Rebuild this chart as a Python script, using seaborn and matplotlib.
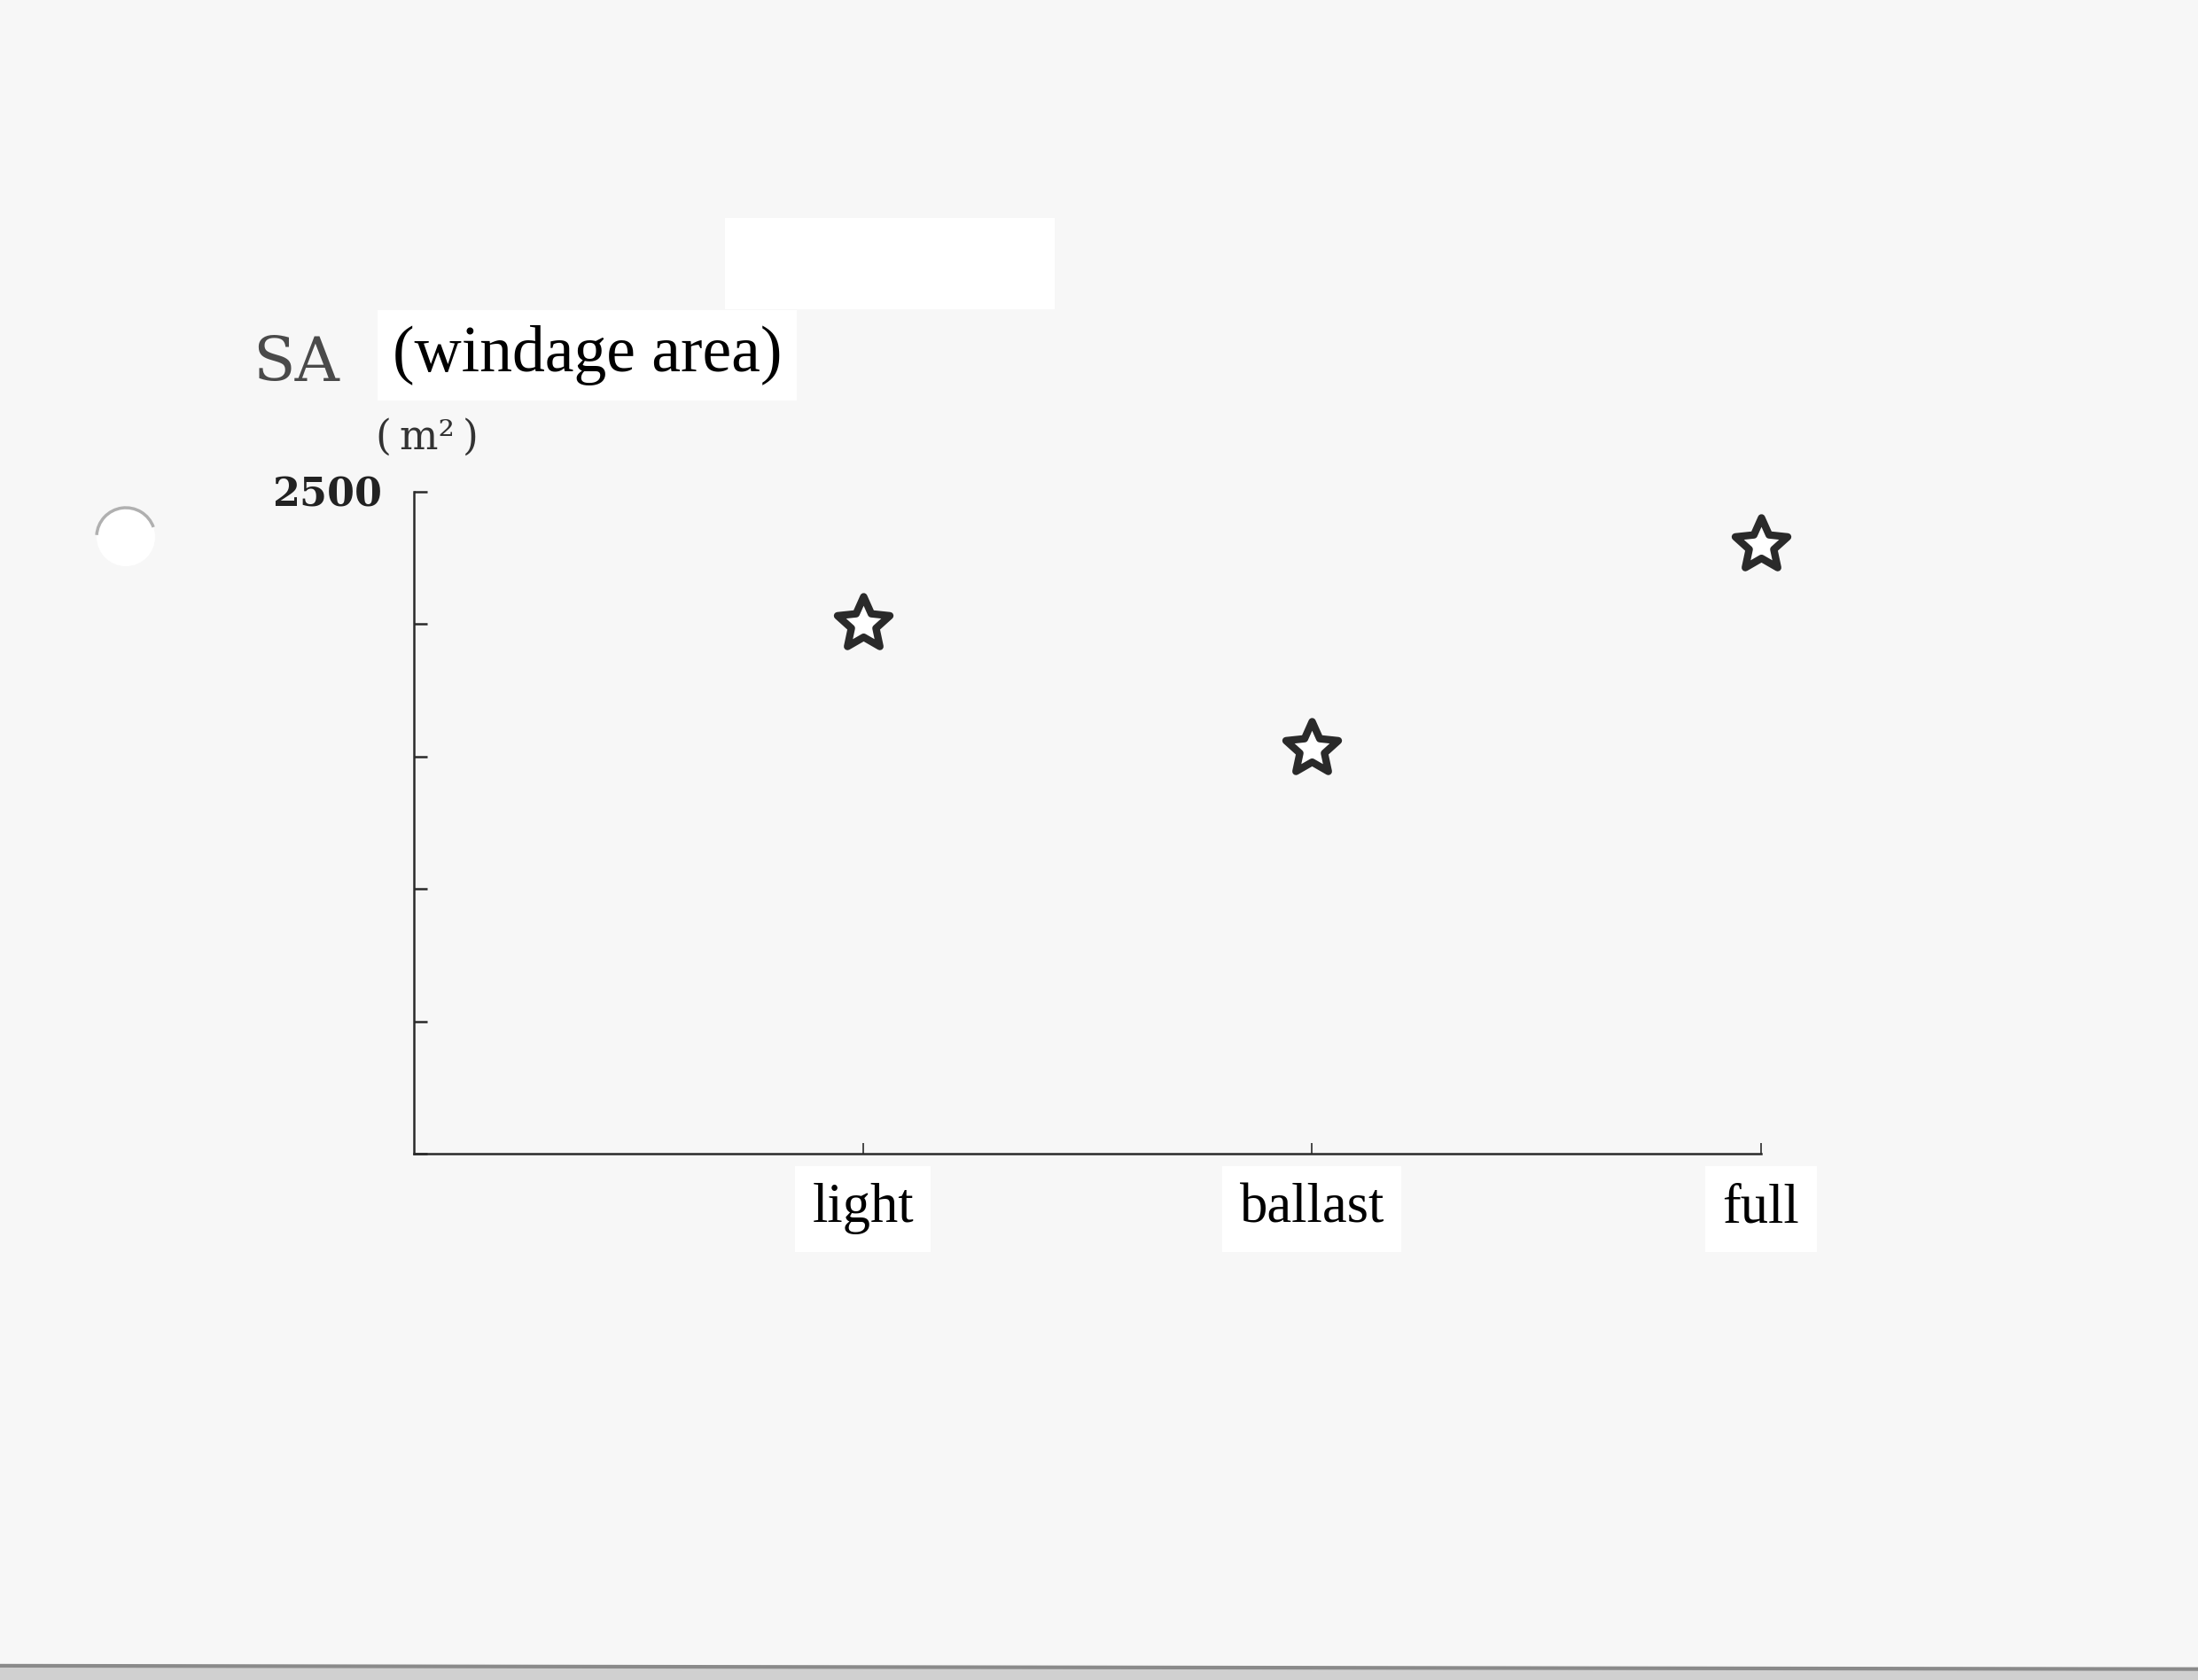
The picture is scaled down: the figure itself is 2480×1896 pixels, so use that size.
import matplotlib
matplotlib.use("Agg")
import matplotlib.pyplot as plt
import matplotlib.patches as mpatches
from matplotlib.path import Path
import numpy as np
import seaborn as sns
import pandas as pd

# data
conditions = ["light", "ballast", "full"]
windage_area = [2000, 1530, 2300]
y_ticks = [0, 500, 1000, 1500, 2000, 2500]
y_tick_labels = ["", "", "", "", "", "2500"]

PAPER = "#f7f7f7"
INK = "#2a2a2a"


def star_marker(inner=0.47):
    # five-pointed outline star, slightly plumper than matplotlib's '*'
    ang = np.pi / 2 + np.arange(10) * np.pi / 5
    rad = np.where(np.arange(10) % 2 == 0, 1.0, inner)
    verts = np.column_stack([rad * np.cos(ang), rad * np.sin(ang)])
    verts = np.vstack([verts, verts[:1]])
    return Path(verts, closed=True)


def main():
    df = pd.DataFrame({"condition": conditions, "area": windage_area})

    sns.set_theme(style="white")
    plt.rcParams["font.family"] = ["Liberation Serif", "DejaVu Serif"]

    W, H = 2480, 1896
    fig = plt.figure(figsize=(W / 100, H / 100), dpi=100, facecolor=PAPER)

    # scan artefacts: pasted white patch, punch hole, page edge
    fig.patches.append(mpatches.Rectangle((0.330, 0.816), 0.150, 0.054,
                                          transform=fig.transFigure,
                                          facecolor="white", edgecolor="none"))
    hole = (142 / W, 1 - 606 / H)
    fig.patches.append(mpatches.Ellipse(hole, 66 / W, 66 / H,
                                        transform=fig.transFigure,
                                        facecolor="white", edgecolor="none"))
    fig.patches.append(mpatches.Arc(hole, 66 / W, 66 / H, theta1=25,
                                    theta2=175, transform=fig.transFigure,
                                    color="#b0b0b0", linewidth=2.5))
    fig.patches.append(mpatches.Rectangle((0, 0), 1, 0.0075,
                                          transform=fig.transFigure,
                                          facecolor="#d0d0d0", edgecolor="none"))
    fig.lines.append(plt.Line2D([0, 1], [0.0085, 0.0065],
                                transform=fig.transFigure,
                                color="#8a8a8a", linewidth=3))

    ax = fig.add_axes([0.1883, 0.3133, 0.6129, 0.394])
    ax.set_facecolor("none")

    sns.scatterplot(data=df, x="condition", y="area", marker=star_marker(),
                    s=2000, facecolor="white", edgecolor=INK, linewidth=6,
                    ax=ax, zorder=3, clip_on=False)

    ax.set_xlim(-1, 2)
    ax.set_ylim(0, 2500)
    ax.set_yticks(y_ticks)
    ax.set_yticklabels(y_tick_labels)
    ax.set_xlabel("")
    ax.set_ylabel("")

    for side in ["top", "right"]:
        ax.spines[side].set_visible(False)
    for side in ["left", "bottom"]:
        ax.spines[side].set_color(INK)
        ax.spines[side].set_linewidth(1.8)

    ax.tick_params(axis="y", direction="in", length=11, width=1.8,
                   color=INK, pad=26, left=True)
    ax.tick_params(axis="x", direction="in", length=9, width=1.2,
                   color=INK, pad=24, bottom=True)
    for lab in ax.get_yticklabels():
        lab.set_fontfamily("DejaVu Serif")
        lab.set_fontweight("bold")
        lab.set_fontsize(32)
        lab.set_color("#222222")
    for lab in ax.get_xticklabels():
        lab.set_fontsize(45)
        lab.set_color("black")
        lab.set_bbox(dict(facecolor="white", edgecolor="none", pad=14))

    # axis title pieces
    fig.text(0.115, 0.773, "SA", fontsize=50, family="DejaVu Serif",
             color="#4a4a4a", va="baseline")
    fig.text(0.1786, 0.779, "(windage area)", fontsize=53, color="black",
             va="baseline",
             bbox=dict(facecolor="white", edgecolor="none", pad=12))
    fig.text(0.171, 0.733, "(\u2009m²\u2009)", fontsize=33,
             family="DejaVu Serif", color="#333333", va="baseline")

    fig.savefig("out.png", dpi=100, facecolor=PAPER)
    plt.close(fig)


if __name__ == "__main__":
    main()
